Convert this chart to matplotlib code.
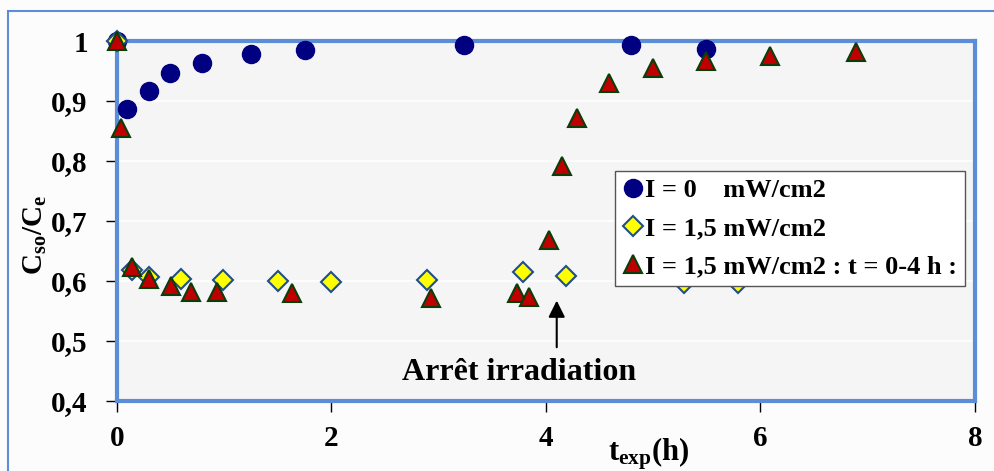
import matplotlib
matplotlib.use("Agg")
import matplotlib.pyplot as plt
from matplotlib.patches import Rectangle

# ---- data ----
t_dark = [0, 0.09, 0.30, 0.49, 0.79, 1.25, 1.75, 3.24, 4.79, 5.49]
c_dark = [1.0, 0.886, 0.916, 0.946, 0.963, 0.978, 0.985, 0.994, 0.994, 0.987]

t_light = [0, 0.14, 0.30, 0.60, 0.99, 1.50, 2.00, 2.89, 3.79, 4.19, 5.29, 5.79]
c_light = [1.0, 0.618, 0.607, 0.603, 0.602, 0.600, 0.598, 0.602, 0.615, 0.608, 0.597, 0.597]

t_stop = [0, 0.04, 0.14, 0.30, 0.50, 0.69, 0.93, 1.63, 2.93, 3.73, 3.84, 4.03,
          4.15, 4.29, 4.59, 5.00, 5.49, 6.09, 6.89]
c_stop = [1.0, 0.855, 0.623, 0.603, 0.592, 0.582, 0.582, 0.580, 0.572, 0.580, 0.574,
          0.668, 0.792, 0.872, 0.930, 0.955, 0.967, 0.975, 0.982]

labels = ["I = 0    mW/cm2", "I = 1,5 mW/cm2", "I = 1,5 mW/cm2 : t = 0-4 h :"]
xticks = [0, 2, 4, 6, 8]
yticks = [0.4, 0.5, 0.6, 0.7, 0.8, 0.9, 1.0]
yticklabels = ["0,4", "0,5", "0,6", "0,7", "0,8", "0,9", "1"]

plt.rcParams['font.family'] = ['Liberation Serif', 'DejaVu Serif']
plt.rcParams['font.weight'] = 'bold'
plt.rcParams['mathtext.fontset'] = 'custom'
plt.rcParams['mathtext.rm'] = 'Liberation Serif:bold'
plt.rcParams['mathtext.it'] = 'Liberation Serif:bold'
plt.rcParams['mathtext.bf'] = 'Liberation Serif:bold'

W, H = 995, 471
fig = plt.figure(figsize=(W / 100, H / 100), dpi=100)
fig.patch.set_facecolor('#fcfcfc')

# outer chart border
fig.patches.append(Rectangle((8 / W, -0.05), 1.2, 1 - 11 / H + 0.05, transform=fig.transFigure,
                             fill=False, edgecolor='#5b8ed6', linewidth=1.5))

ax = fig.add_axes([117 / W, 1 - 401 / H, (975 - 117) / W, (401 - 41) / H])
ax.set_facecolor('#f5f5f5')
ax.set_xlim(0, 8)
ax.set_ylim(0.4, 1.0)
ax.set_yticks(yticks)
ax.set_yticklabels(yticklabels)
ax.set_xticks(xticks)
ax.grid(axis='y', color='white', linewidth=1.2)
ax.set_axisbelow(True)
for s in ax.spines.values():
    s.set_color('#5b8ed6')
    s.set_linewidth(3)
ax.tick_params(axis='both', direction='out', length=8, width=1, color='black',
               labelsize=21)
ax.tick_params(axis='y', pad=13)
ax.tick_params(axis='x', pad=9)
for lab in ax.get_xticklabels() + ax.get_yticklabels():
    lab.set_fontweight('bold')

h1, = ax.plot(t_dark, c_dark, 'o', ms=13, color='#000080', mec='#000080', clip_on=False, zorder=3)
h2, = ax.plot(t_light, c_light, 'D', ms=10, mfc='#ffff00', mec='#1f4e8c', mew=1.5, clip_on=False, zorder=4)
h3, = ax.plot(t_stop, c_stop, '^', ms=13, mfc='#c00000', mec='#0b3d0b', mew=1.5, clip_on=False, zorder=5)

leg = ax.legend([h1, h2, h3], labels, loc='upper right',
                bbox_to_anchor=(965 / W, 1 - 171 / H), bbox_transform=fig.transFigure,
                borderaxespad=0, fancybox=False, framealpha=1, edgecolor='#555555',
                prop={'family': 'Liberation Serif', 'weight': 'bold', 'size': 19},
                handlelength=0.8, handletextpad=0.05, borderpad=0.3, labelspacing=0.55,
                markerscale=1.0)
leg.get_frame().set_linewidth(1)
leg.set_zorder(10)

ax.annotate('', xy=(4.10, 0.572), xytext=(4.10, 0.485),
            arrowprops=dict(arrowstyle='-|>', color='black', lw=1.5, mutation_scale=25))
ax.text(3.75, 0.447, 'Arrêt irradiation', ha='center', va='center',
        fontsize=23, fontweight='bold')

fig.text(649 / W, 1 - 454 / H, r'$\mathrm{t_{exp}(h)}$', ha='center', va='center', fontsize=22)
fig.text(35 / W, 1 - 235 / H, r'$\mathrm{C_{so}/C_{e}}$', ha='center', va='center',
         rotation=90, fontsize=21)

fig.savefig('out.png', dpi=100, facecolor=fig.get_facecolor())
